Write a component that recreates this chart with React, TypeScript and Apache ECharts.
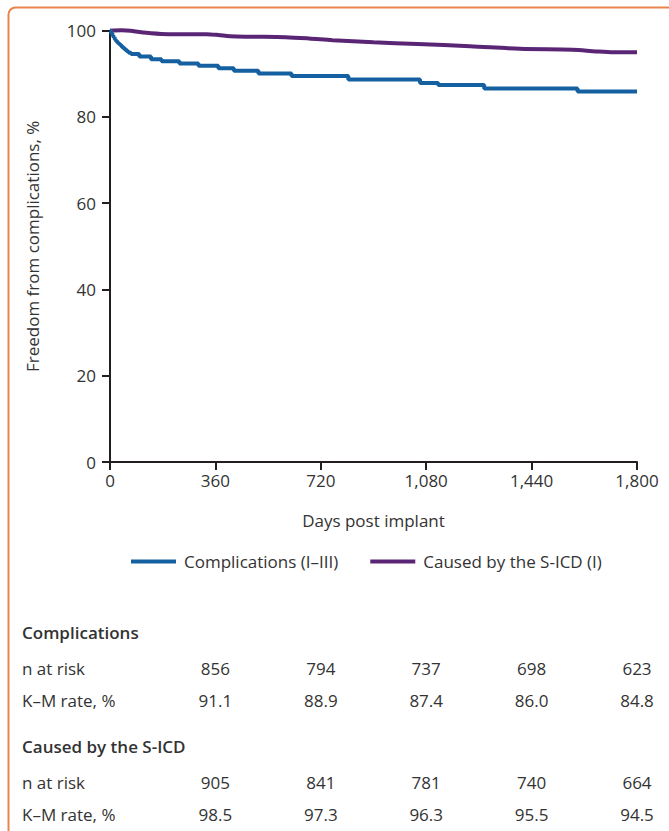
import React, { useEffect, useRef } from "react";
import * as echarts from "echarts";

const xTicks = [0, 360, 720, 1080, 1440, 1800];
const yTicks = [0, 20, 40, 60, 80, 100];

// Kaplan–Meier: [day, freedom %]
const complicationsCurve: [number, number][] = [
  [0, 100], [4, 99.4], [8, 98.9], [12, 98.5], [16, 98.0], [20, 97.6], [25, 97.2],
  [30, 96.9], [35, 96.6], [40, 96.2], [46, 95.9], [52, 95.5], [58, 95.2], [64, 94.9],
  [72, 94.6], [100, 94.0], [140, 93.4], [176, 92.9], [237, 92.4], [302, 91.9],
  [370, 91.3], [423, 90.7], [507, 90.1], [620, 89.5], [814, 88.7], [1059, 87.9],
  [1121, 87.4], [1278, 86.6], [1597, 85.9], [1800, 85.9],
];

const sicdCurve: [number, number][] = [
  [0, 100], [40, 100.1], [70, 100.0], [100, 99.7], [140, 99.4], [200, 99.2],
  [330, 99.2], [370, 99.0], [410, 98.7], [480, 98.6], [600, 98.5], [680, 98.2],
  [760, 97.8], [900, 97.3], [1050, 96.9], [1230, 96.4], [1400, 95.8], [1580, 95.6],
  [1660, 95.2], [1720, 95.0], [1800, 95.0],
];

const seriesNames = ["Complications (I–III)", "Caused by the S-ICD (I)"];
const riskDays = [360, 720, 1080, 1440, 1800];
const complicationsAtRisk = ["856", "794", "737", "698", "623"];
const complicationsKM = ["91.1", "88.9", "87.4", "86.0", "84.8"];
const sicdAtRisk = ["905", "841", "781", "740", "664"];
const sicdKM = ["98.5", "97.3", "96.3", "95.5", "94.5"];

const FONT = "'Open Sans'";
const FS = 17;
const TEXT = "#333333";
const AXIS = "#231F20";
const BLUE = "#1560A0";
const PURPLE = "#5A2575";

export default function App() {
  const ref = useRef<HTMLDivElement>(null);
  useEffect(() => {
    document.body.style.margin = "0";
    const chart = echarts.init(ref.current!, undefined, { renderer: "svg" });
    chart.setOption({
      animation: false,
      textStyle: { fontFamily: FONT },
      grid: { left: 110, right: 32, top: 30.7, bottom: 369 },
      legend: {
        left: 131,
        top: 553,
        padding: 0,
        itemWidth: 45,
        itemHeight: 4,
        itemGap: 32,
        icon: "rect",
        textStyle: { fontFamily: FONT, fontSize: FS, color: TEXT, padding: [0, 0, 0, 3] },
        data: seriesNames,
      },
      xAxis: {
        type: "value",
        min: 0,
        max: 1800,
        interval: 360,
        name: "Days post implant",
        nameLocation: "middle",
        nameGap: 50,
        nameTextStyle: { fontFamily: FONT, fontSize: FS, color: TEXT },
        axisLine: { show: true, lineStyle: { color: AXIS, width: 2 } },
        axisTick: { show: true, length: 8, lineStyle: { color: AXIS, width: 2 } },
        axisLabel: {
          margin: 10,
          fontFamily: FONT,
          fontSize: FS,
          color: TEXT,
          formatter: (v: number) => (xTicks.includes(v) ? v.toLocaleString("en-US") : ""),
        },
        splitLine: { show: false },
      },
      yAxis: {
        type: "value",
        min: 0,
        max: 100,
        interval: 20,
        name: "Freedom from complications, %",
        nameLocation: "middle",
        nameGap: 69,
        nameTextStyle: { fontFamily: FONT, fontSize: FS, color: TEXT },
        axisLine: { show: true, lineStyle: { color: AXIS, width: 2 } },
        axisTick: { show: true, length: 8, lineStyle: { color: AXIS, width: 2 } },
        axisLabel: {
          margin: 14,
          fontFamily: FONT,
          fontSize: FS,
          color: TEXT,
          formatter: (v: number) => (yTicks.includes(v) ? String(v) : ""),
        },
        splitLine: { show: false },
      },
      series: [
        {
          name: seriesNames[0],
          type: "line",
          step: "end",
          data: complicationsCurve,
          showSymbol: false,
          clip: false,
          lineStyle: { color: BLUE, width: 4 },
          itemStyle: { color: BLUE },
          z: 3,
        },
        {
          name: seriesNames[1],
          type: "line",
          smooth: 0.3,
          data: sicdCurve,
          showSymbol: false,
          clip: false,
          lineStyle: { color: PURPLE, width: 4 },
          itemStyle: { color: PURPLE },
          z: 2,
        },
      ],
    });

    const xs = riskDays.map((d) => chart.convertToPixel({ xAxisIndex: 0 }, d) as number);
    const label = (text: string, x: number, y: number, bold = false, align = "left") => ({
      type: "text",
      x,
      y,
      style: {
        text,
        fill: TEXT,
        font: `${bold ? "600 " : ""}${FS}px ${FONT}`,
        textAlign: align,
        textVerticalAlign: "middle",
      },
    });
    const row = (vals: string[], y: number) => vals.map((v, i) => label(v, xs[i], y, false, "center"));
    chart.setOption({
      graphic: [
        {
          type: "rect",
          shape: { x: 8.5, y: 7.5, width: 720, height: 900, r: 7 },
          style: { fill: "none", stroke: "#E8844F", lineWidth: 2 },
          silent: true,
        },
        label("Complications", 22, 632, true),
        label("n at risk", 22, 668),
        label("K–M rate, %", 22, 700),
        ...row(complicationsAtRisk, 668),
        ...row(complicationsKM, 700),
        label("Caused by the S-ICD", 22, 746, true),
        label("n at risk", 22, 782),
        label("K–M rate, %", 22, 814),
        ...row(sicdAtRisk, 782),
        ...row(sicdKM, 814),
      ],
    });
    return () => chart.dispose();
  }, []);
  return <div ref={ref} style={{ width: 669, height: 831, position: "absolute", left: 0, top: 0 }} />;
}
